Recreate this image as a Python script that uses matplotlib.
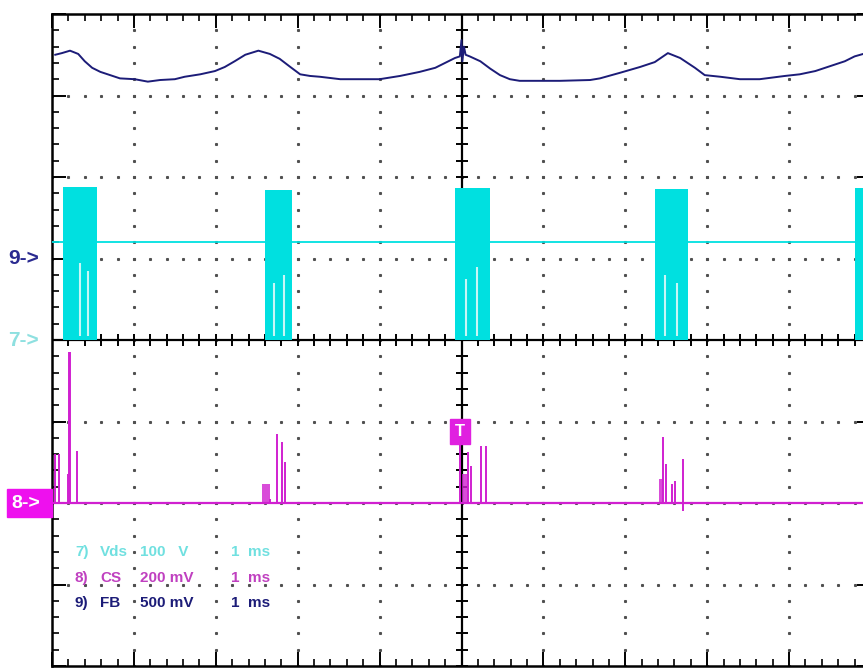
import matplotlib
matplotlib.use("Agg")
import matplotlib.pyplot as plt
import numpy as np
from matplotlib.patches import Rectangle
from matplotlib.transforms import blended_transform_factory

# time in ms (1 ms/div), vertical in divisions (center = 0)
fb_t = [0.04, 0.12, 0.22, 0.32, 0.40, 0.49, 0.59, 0.71, 0.83, 1.01, 1.17, 1.32,
        1.50, 1.62, 1.81, 1.99, 2.11, 2.23, 2.36, 2.52, 2.66, 2.78, 2.91, 3.03,
        3.15, 3.27, 3.52, 4.00, 4.25, 4.49, 4.68, 4.80, 4.92, 4.98, 5.00, 5.01,
        5.03, 5.05, 5.10, 5.23, 5.35, 5.47, 5.59, 5.71, 6.02, 6.20, 6.57, 6.69,
        6.94, 7.18, 7.36, 7.52, 7.67, 7.85, 7.97, 8.16, 8.40, 8.64, 8.95, 9.13,
        9.32, 9.50, 9.68, 9.80, 9.94, 10.0]
fb_v = [3.50, 3.52, 3.55, 3.51, 3.42, 3.34, 3.29, 3.25, 3.21, 3.20, 3.17, 3.19,
        3.20, 3.23, 3.26, 3.30, 3.35, 3.42, 3.50, 3.55, 3.51, 3.45, 3.35, 3.26,
        3.24, 3.23, 3.20, 3.20, 3.24, 3.29, 3.34, 3.40, 3.46, 3.48, 3.68, 3.42,
        3.60, 3.50, 3.48, 3.42, 3.33, 3.25, 3.20, 3.18, 3.18, 3.18, 3.19, 3.21,
        3.28, 3.35, 3.41, 3.52, 3.46, 3.34, 3.25, 3.23, 3.20, 3.20, 3.24, 3.26,
        3.30, 3.36, 3.42, 3.48, 3.52, 3.53]

vds_level = 1.20
vds_burst_start = [0.13, 2.60, 4.92, 7.36, 9.80]
vds_burst_end = [0.55, 2.93, 5.35, 7.77, 10.0]
vds_burst_top = [1.88, 1.84, 1.86, 1.85, 1.86]
# thin gaps seen inside the switching bursts (time, upper end)
vds_gap_t = [0.34, 0.44, 2.71, 2.83, 5.06, 5.19, 7.49, 7.63]
vds_gap_top = [0.95, 0.85, 0.70, 0.80, 0.75, 0.90, 0.80, 0.70]

cs_base = -2.0
cs_spike_t = [0.04, 0.08, 0.20, 0.21, 0.22, 0.31,
              2.66, 2.75, 2.81, 2.84,
              4.98, 5.08, 5.12, 5.24, 5.30,
              7.46, 7.50, 7.57, 7.61, 7.70, 7.71]
cs_spike_h = [0.60, 0.60, 0.36, 1.85, 1.85, 0.64,
              0.05, 0.85, 0.75, 0.50,
              0.72, 0.63, 0.45, 0.70, 0.70,
              0.81, 0.48, 0.23, 0.27, 0.54, -0.10]
cs_block_start = [2.56, 5.01, 7.41]
cs_block_end = [2.66, 5.08, 7.46]
cs_block_h = [0.23, 0.36, 0.30]

legend_num = ["7)", "8)", "9)"]
legend_name = ["Vds", "CS", "FB"]
legend_scale = ["100   V", "200 mV", "500 mV"]
legend_time = ["1  ms", "1  ms", "1  ms"]
legend_y = [-2.60, -2.92, -3.23]

c_vds = "#00e0e0"
c_cs = "#d020d0"
c_fb = "#1c1c78"

fig = plt.figure(figsize=(8.63, 6.68), dpi=100)
ax = fig.add_axes([52 / 863, 2 / 668, 819 / 863, 652 / 668])
ax.set_xlim(0, 10)
ax.set_ylim(-4, 4)

# graticule dots
minor = np.arange(0, 10.001, 0.2)
minor_y = np.arange(-4, 4.001, 0.2)
for gx in [1, 2, 3, 4, 6, 7, 8, 9]:
    ax.plot(np.full(len(minor_y), gx), minor_y, ls="none", marker="s", ms=1.2, color="#505050", zorder=1)
for gy in [-3, -2, -1, 1, 2, 3]:
    ax.plot(minor, np.full(len(minor), gy), ls="none", marker="s", ms=1.2, color="#505050", zorder=1)

# center crosshair
ax.axhline(0, color="black", lw=1.6, zorder=2)
ax.axvline(5, color="black", lw=1.6, zorder=2)
ax.plot(minor, np.zeros(len(minor)), ls="none", marker="|", ms=8, mew=1.4, color="black", zorder=2)
ax.plot(np.full(len(minor_y), 5), minor_y, ls="none", marker="_", ms=8, mew=1.4, color="black", zorder=2)

# border ticks
ax.set_xticks(np.arange(0, 11, 1))
ax.set_yticks(np.arange(-4, 5, 1))
ax.set_xticks(minor, minor=True)
ax.set_yticks(minor_y, minor=True)
ax.tick_params(which="both", direction="in", top=True, right=True, labelbottom=False, labelleft=False, color="black")
ax.tick_params(which="major", length=10, width=1.4)
ax.tick_params(which="minor", length=5, width=1.2)
for s in ax.spines.values():
    s.set_linewidth(1.8)

# channel 7: Vds
ax.hlines(vds_level, 0, 10, color=c_vds, lw=1.3, zorder=3)
for s, e, top in zip(vds_burst_start, vds_burst_end, vds_burst_top):
    ax.fill_between([s, e], 0, top, color=c_vds, lw=0, zorder=3)
ax.vlines(vds_gap_t, 0.05, vds_gap_top, color="#c8f6f6", lw=1.5, zorder=3)

# channel 8: CS
ax.hlines(cs_base, 0, 10, color=c_cs, lw=1.6, zorder=4)
ax.vlines(cs_spike_t, cs_base, [cs_base + h for h in cs_spike_h], color=c_cs, lw=1.4, zorder=4)
for s, e, h in zip(cs_block_start, cs_block_end, cs_block_h):
    ax.fill_between([s, e], cs_base, cs_base + h, color=c_cs, alpha=0.8, lw=0, zorder=4)

# channel 9: FB
ax.plot(fb_t, fb_v, color=c_fb, lw=1.4, zorder=5)

# trigger marker
ax.text(4.98, -1.12, "T", color="white", fontsize=12, fontweight="bold", ha="center", va="center",
        zorder=6, family="Liberation Sans",
        bbox=dict(boxstyle="square,pad=0.3", fc="#e020e0", ec="#e020e0"))

# channel markers on the left
tr = blended_transform_factory(ax.transAxes, ax.transData)
ax.text(-0.054, 1.0, "9->", transform=tr, color="#2a2a90", fontsize=15, fontweight="bold",
        ha="left", va="center", clip_on=False, family="Liberation Sans")
ax.text(-0.054, 0.0, "7->", transform=tr, color="#8ee0e0", fontsize=15, fontweight="bold",
        ha="left", va="center", clip_on=False, family="Liberation Sans")
ax.add_patch(Rectangle((-0.055, -2.17), 0.055, 0.34, transform=tr, color="#ee10ee",
                       clip_on=False, zorder=6))
ax.text(-0.050, -2.0, "8->", transform=tr, color="white", fontsize=14, fontweight="bold",
        ha="left", va="center", clip_on=False, zorder=7, family="Liberation Sans")

# legend, one column per field
cols = [(0.28, legend_num), (0.59, legend_name), (1.08, legend_scale), (2.19, legend_time)]
for i, (y, c) in enumerate(zip(legend_y, ["#70e0e0", "#c040c0", c_fb])):
    for x, field in cols:
        ax.text(x, y, field[i], color=c, fontsize=11, fontweight="bold", ha="left", va="center",
                family="Liberation Sans", zorder=6)

fig.savefig("out.png", dpi=100)
